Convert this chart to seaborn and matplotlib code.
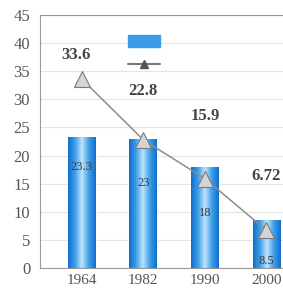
import numpy as np
import pandas as pd
import seaborn as sns
import matplotlib
matplotlib.use("Agg")
from matplotlib import pyplot as plt
from matplotlib.lines import Line2D
from matplotlib.patches import Rectangle
from matplotlib.colors import LinearSegmentedColormap

years = ['1964', '1982', '1990', '2000']
bar_vals = [23.3, 23, 18, 8.5]
line_vals = [33.6, 22.8, 15.9, 6.72]
bar_labels = ['23.3', '23', '18', '8.5']
line_labels = ['33.6', '22.8', '15.9', '6.72']

# where the annotation texts sit (y in data units), as in the original
bar_label_y = [18, 15.1, 9.8, 1.2]
line_label_y = [37.9, 31.4, 27.0, 16.4]

sns.set_style('white')
plt.rcParams['font.family'] = ['Liberation Serif', 'DejaVu Serif']

df = pd.DataFrame({'year': years, 'bar': bar_vals, 'line': line_vals})

fig = plt.figure(figsize=(2.83, 2.92), dpi=100)
ax = fig.add_axes([0.141, 0.082, 0.859, 0.867])

sns.barplot(data=df, x='year', y='bar', ax=ax, color='#2a8ce0', width=0.45, saturation=1)

# cylinder-like gradient on the bars
cmap = LinearSegmentedColormap.from_list('cyl', ['#0f6fcc', '#3d9fe8', '#bfe4fb', '#3d9fe8', '#0f6fcc'])
grad = np.linspace(0, 1, 64).reshape(1, -1)
for p in ax.patches:
    x0, y0 = p.get_x(), p.get_y()
    w, h = p.get_width(), p.get_height()
    im = ax.imshow(grad, cmap=cmap, aspect='auto', extent=[x0, x0 + w, y0, y0 + h],
                   zorder=p.get_zorder() + 0.1)
    im.set_clip_path(p)

ax.plot(range(len(years)), line_vals, color='#8c8c8c', lw=1.1, marker='^', ms=12,
        mfc='#d4d4d4', mec='#7a7a7a', mew=0.8, zorder=5)

for i, (bl, by) in enumerate(zip(bar_labels, bar_label_y)):
    ax.text(i, by, bl, ha='center', va='center', fontsize=9, color='#3a3a3a', zorder=6)
for i, (ll, ly) in enumerate(zip(line_labels, line_label_y)):
    ax.text(i - 0.1 if i == 0 else i, ly, ll, ha='center', va='center', fontsize=12,
            fontweight='bold', color='#444444', zorder=6)

ax.set_xlim(-0.68, 3.27)
ax.set_ylim(0, 45)
ax.set_yticks(range(0, 46, 5))
ax.set_xlabel('')
ax.set_ylabel('')
ax.yaxis.grid(True, color='#e4e4e4', lw=0.8)
ax.set_axisbelow(True)
ax.tick_params(axis='both', labelsize=12, colors='#555555', length=0, pad=7)
ax.tick_params(axis='x', labelsize=11, pad=4)
ax.set_xticks([0.5, 1.5, 2.5], minor=True)
ax.tick_params(axis='x', which='minor', length=3, color='#888888', direction='out')
for s in ['left', 'bottom', 'top']:
    ax.spines[s].set_color('#999999')
    ax.spines[s].set_linewidth(0.8)
ax.spines['right'].set_visible(False)

handles = [Rectangle((0, 0), 1, 1, color='#3a9be8'),
           Line2D([], [], color='#7a7a7a', marker='^', ms=6, mfc='#555555', mec='#555555')]
ax.legend(handles, ['', ''], loc='upper left', bbox_to_anchor=(0.31, 0.97), frameon=False,
          handlelength=2.3, handleheight=0.95, labelspacing=0.7, handletextpad=0)

fig.savefig('out.png', dpi=100)
